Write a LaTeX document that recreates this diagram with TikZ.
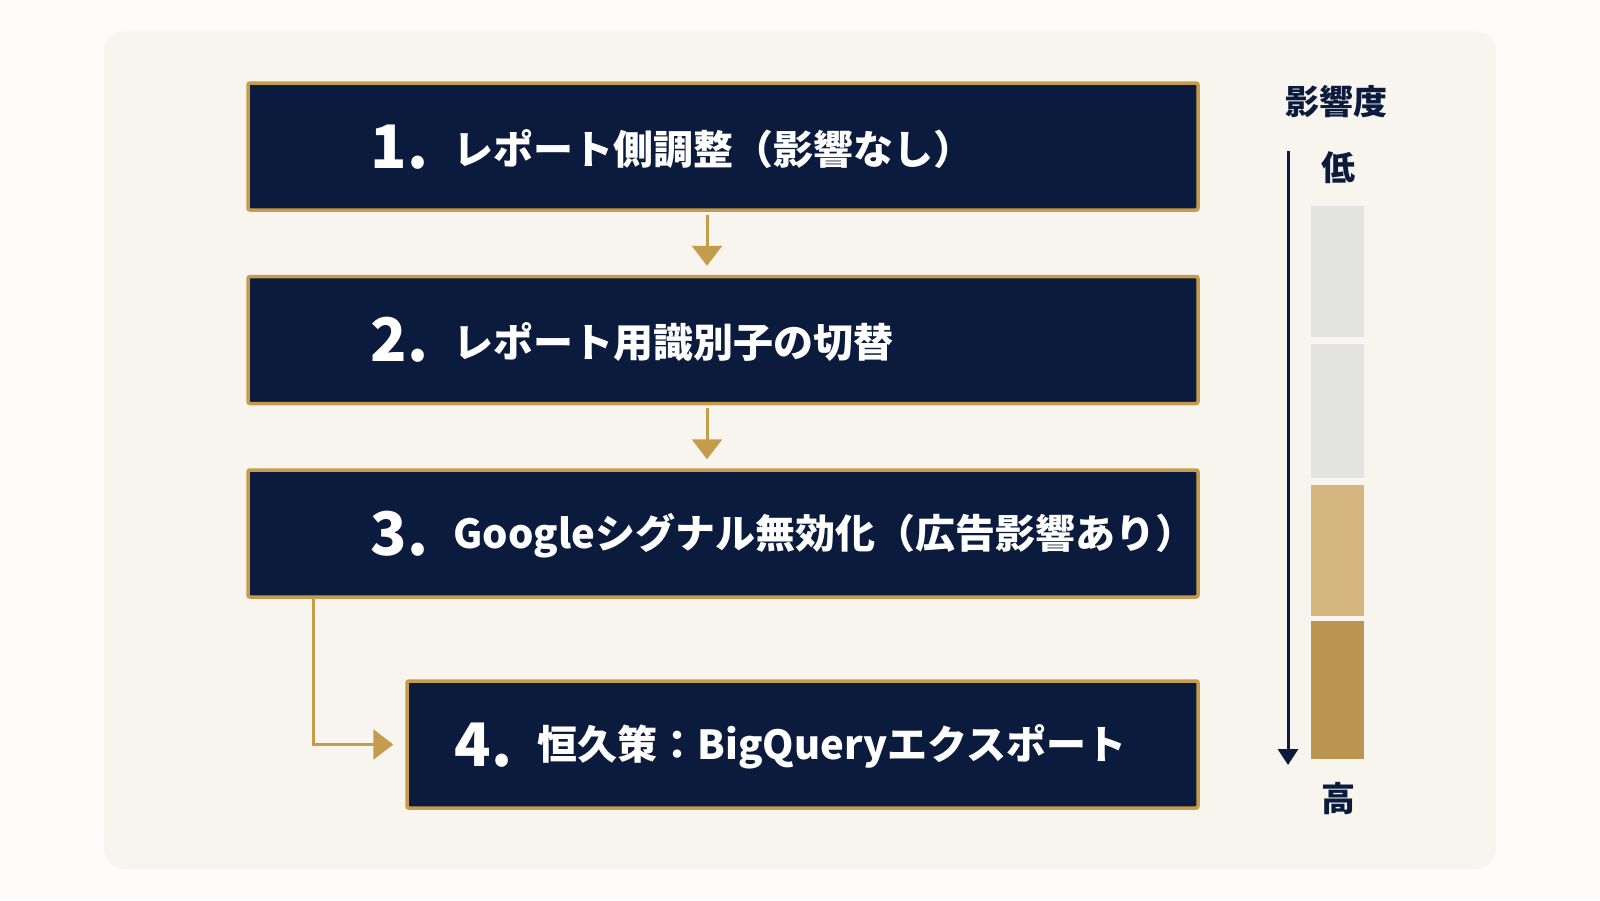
\documentclass[tikz,border=0pt]{standalone}
\usepackage{fontspec}
\setmainfont{Noto Sans CJK JP}
\usetikzlibrary{arrows.meta}

\definecolor{navy}{HTML}{0B1B3E}
\definecolor{gold}{HTML}{C59B4C}
\definecolor{panel}{HTML}{F8F5EE}
\definecolor{paper}{HTML}{FDFCFA}
\definecolor{barlight}{HTML}{E3E3E2}
\definecolor{bartan}{HTML}{D5B67E}
\definecolor{bargold}{HTML}{BC9550}

\begin{document}
\begin{tikzpicture}[x=1pt,y=-1pt]
    % Define styles
    \tikzset{
        stage/.style={rectangle, draw=gold, fill=navy, line width=3.5pt, rounded corners=2pt, minimum height=127pt, inner sep=0pt},
        stagenum/.style={anchor=east, text=white, font=\bfseries\fontsize{60}{60}\selectfont},
        stagetext/.style={anchor=west, text=white, font=\bfseries\fontsize{40}{44}\selectfont},
        flow/.style={draw=gold, line width=3pt, -{Triangle[width=30pt,length=20pt]}},
        scaletext/.style={text=navy, font=\bfseries\fontsize{34}{36}\selectfont}
    }

    % Background
    \useasboundingbox (0,0) rectangle (1600,900);
    \fill[paper] (0,0) rectangle (1600,900);
    \fill[panel, rounded corners=20pt] (104,31) rectangle (1496,869);

    % Nodes
    \node[stage, minimum width=950pt] (s1) at (723,146.5) {};
    \node[stage, minimum width=950pt] (s2) at (723,340) {};
    \node[stage, minimum width=950pt] (s3) at (723,533.5) {};
    \node[stage, minimum width=791pt] (s4) at (802.5,744.5) {};

    \node[stagetext] (t1) at (450,149) {レポート側調整（影響なし）};
    \node[stagetext] (t2) at (450,342) {レポート用識別子の切替};
    \node[stagetext] (t3) at (450,536) {Googleシグナル無効化（広告影響あり）};
    \node[stagetext] (t4) at (534,747) {恒久策：BigQueryエクスポート};

    \node[stagenum] (n1) at (432,147) {1.};
    \node[stagenum] (n2) at (432,340) {2.};
    \node[stagenum] (n3) at (432,534) {3.};
    \node[stagenum] (n4) at (516,745) {4.};

    % Arrows
    \draw[flow, shorten <=3pt, shorten >=9pt] (s1.south -| 707,0) -- (s2.north -| 707,0);
    \draw[flow, shorten <=3pt, shorten >=9pt] (s2.south -| 707,0) -- (s3.north -| 707,0);
    \draw[flow, shorten >=12pt] ([xshift=67pt]s3.south west) |- (s4.west);

    % Impact scale
    \node[scaletext] (scale_title) at (1336,102) {影響度};
    \node[scaletext] (low) at (1338,168) {低};
    \node[scaletext] (high) at (1338,799) {高};
    \coordinate (scale_top) at (1288,151);
    \coordinate (scale_bottom) at (1288,765);
    \draw[navy, line width=3pt, -{Triangle[width=20pt,length=16pt]}] (scale_top) -- (scale_bottom);

    \fill[barlight] (1311,206) rectangle (1364,337);
    \fill[barlight] (1311,344) rectangle (1364,478);
    \fill[bartan] (1311,485) rectangle (1364,616);
    \fill[bargold] (1311,621) rectangle (1364,759);
\end{tikzpicture}
\end{document}
